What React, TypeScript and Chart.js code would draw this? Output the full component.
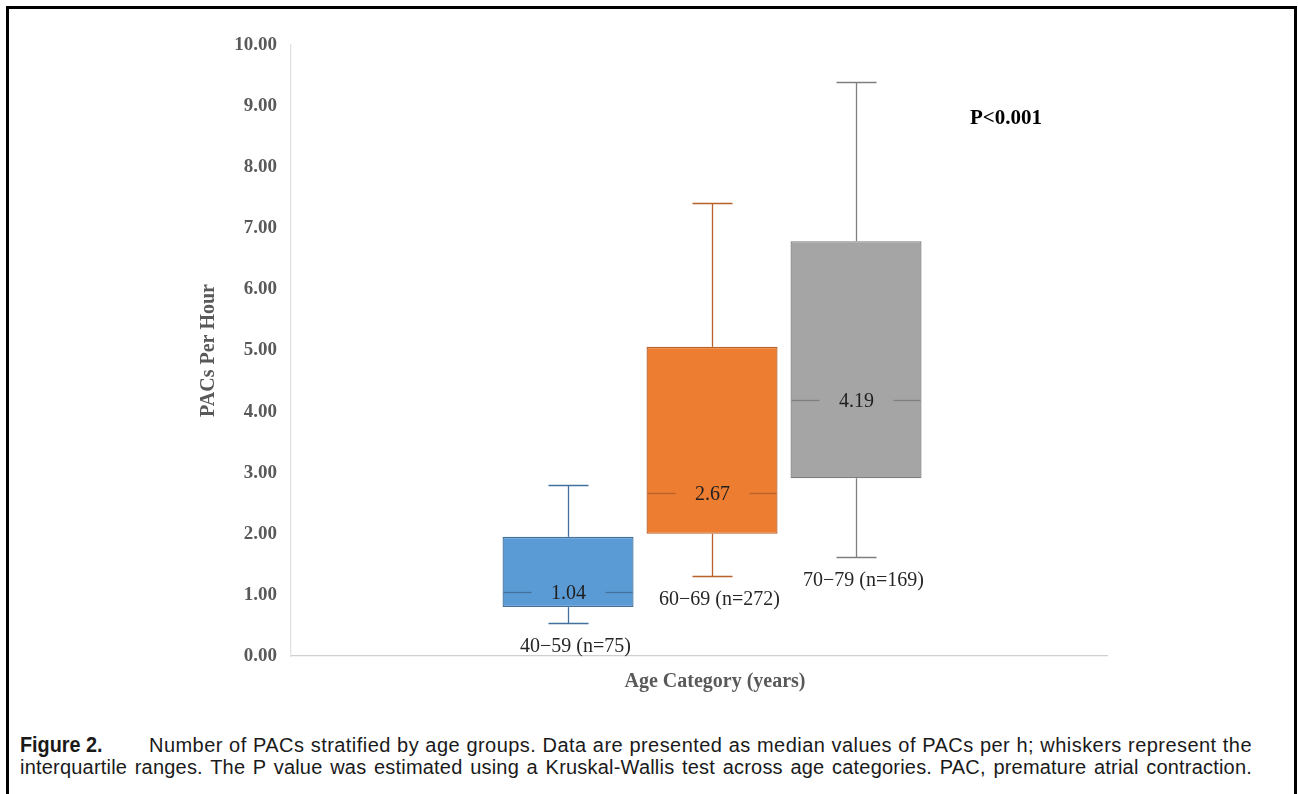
import React, { useEffect, useRef } from 'react';
import { Chart, registerables } from 'chart.js';

Chart.register(...registerables);

// ---- data ----
const categories = ['40−59 (n=75)', '60−69 (n=272)', '70−79 (n=169)'];
const medians = [1.04, 2.67, 4.19];
const q1Values = [0.8, 2.0, 2.91];
const q3Values = [1.95, 5.06, 6.79];
const whiskerLow = [0.54, 1.31, 1.62];
const whiskerHigh = [2.8, 7.41, 9.39];
const yTickValues = [0, 1, 2, 3, 4, 5, 6, 7, 8, 9, 10];
const pValueText = 'P<0.001';
const xTitle = 'Age Category (years)';
const yTitle = 'PACs Per Hour';

// ---- styles ----
const fillColors = ['#5B9BD5', '#ED7D31', '#A5A5A5'];
const edgeColors = ['#41719C', '#B8612A', '#7F7F7F'];
const SERIF = '"Liberation Serif", "Times New Roman", serif';

const boxExtras = {
  id: 'boxExtras',
  afterDatasetsDraw(chart: any) {
    const { ctx, scales, chartArea } = chart;
    const y = scales.y;
    const meta = chart.getDatasetMeta(0);
    ctx.save();
    const line = (x1: number, y1: number, x2: number, y2: number) => {
      ctx.beginPath();
      ctx.moveTo(x1, y1);
      ctx.lineTo(x2, y2);
      ctx.stroke();
    };
    categories.forEach((label, i) => {
      const bar = meta.data[i];
      const cx = Math.round(bar.x) + 0.5;
      const half = bar.width / 2;
      const left = bar.x - half;
      const right = bar.x + half;
      const yHi = Math.round(y.getPixelForValue(whiskerHigh[i])) + 0.5;
      const yQ3 = y.getPixelForValue(q3Values[i]);
      const yQ1 = y.getPixelForValue(q1Values[i]);
      const yLo = Math.round(y.getPixelForValue(whiskerLow[i])) + 0.5;
      const yMed = Math.round(y.getPixelForValue(medians[i])) + 0.5;
      ctx.strokeStyle = edgeColors[i];
      ctx.lineWidth = 1.3;
      line(cx, yHi, cx, yQ3);
      line(cx, yQ1, cx, yLo);
      line(cx - 20, yHi, cx + 20, yHi);
      line(cx - 20, yLo, cx + 20, yLo);
      const gap = 37;
      line(left + 1, yMed, cx - gap, yMed);
      line(cx + gap, yMed, right - 1, yMed);

      ctx.fillStyle = '#1f1f1f';
      ctx.font = `20px ${SERIF}`;
      ctx.textAlign = 'center';
      ctx.textBaseline = 'middle';
      ctx.fillText(medians[i].toFixed(2), cx, yMed + 1);

      ctx.fillStyle = '#262626';
      ctx.fillText(label, cx + 7, yLo + 23);
    });

    // P value annotation
    ctx.fillStyle = '#000000';
    ctx.font = `bold 21px ${SERIF}`;
    ctx.textAlign = 'left';
    ctx.textBaseline = 'middle';
    ctx.fillText(pValueText, chartArea.right - 137, chartArea.top + 74);

    // x axis title
    ctx.fillStyle = '#595959';
    ctx.font = `bold 20px ${SERIF}`;
    ctx.textAlign = 'center';
    ctx.fillText(xTitle, (chartArea.left + chartArea.right) / 2 + 16, chartArea.bottom + 26);
    ctx.restore();
  },
};

function BoxChart() {
  const ref = useRef<HTMLCanvasElement | null>(null);
  useEffect(() => {
    if (!ref.current) return;
    const chart = new Chart(ref.current, {
      type: 'bar',
      data: {
        datasets: [
          {
            data: categories.map((_, i) => ({ x: i, y: [q1Values[i], q3Values[i]] })) as any,
            backgroundColor: fillColors,
            borderColor: edgeColors,
            borderWidth: 1.3,
            borderSkipped: false,
            barPercentage: 0.91,
            categoryPercentage: 1,
          },
        ],
      },
      options: {
        animation: false,
        responsive: false,
        maintainAspectRatio: false,
        layout: { padding: { left: 185, right: 191, top: 45, bottom: 0 } },
        plugins: { legend: { display: false }, tooltip: { enabled: false } },
        scales: {
          x: {
            type: 'linear',
            min: -1.924,
            max: 3.743,
            offset: false,
            afterBuildTicks: (s: any) => {
              s.ticks = categories.map((_, i) => ({ value: i }));
            },
            ticks: { display: false },
            grid: { display: false, drawTicks: false, offset: false },
            border: { display: true, color: '#CFCFCF', width: 1.3 },
            afterFit: (s: any) => {
              s.height = 44;
            },
          },
          y: {
            min: 0,
            max: 10,
            afterBuildTicks: (s: any) => {
              s.ticks = yTickValues.map((v) => ({ value: v }));
            },
            ticks: {
              padding: 14,
              color: '#595959',
              font: { family: SERIF, size: 19, weight: 'bold' },
              callback: (v: any) => Number(v).toFixed(2),
            },
            grid: { display: false, drawTicks: false },
            border: { display: true, color: '#E2E2E2', width: 1.3 },
            title: {
              display: true,
              text: yTitle,
              color: '#595959',
              font: { family: SERIF, size: 20, weight: 'bold' },
              padding: { top: 12, bottom: 0 },
            },
            afterFit: (s: any) => {
              s.width = 106;
            },
          },
        },
      },
      plugins: [boxExtras],
    });
    return () => chart.destroy();
  }, []);
  return (
    <canvas
      ref={ref}
      width={1298}
      height={700}
      style={{ position: 'absolute', left: 0, top: 0, width: 1298, height: 700 }}
    />
  );
}

export default function App() {
  const captionLine: React.CSSProperties = {
    textAlign: 'justify',
    textAlignLast: 'justify' as any,
    whiteSpace: 'normal',
  };
  return (
    <div>
      <div
        style={{
          position: 'absolute',
          left: 6,
          top: 6,
          width: 1291,
          height: 788,
          boxSizing: 'border-box',
          border: '3px solid #000',
          borderBottom: 'none',
        }}
      />
      <BoxChart />
      <div
        style={{
          position: 'absolute',
          left: 20,
          top: 734,
          width: 1232,
          fontFamily: '"Liberation Sans", Arial, sans-serif',
          fontSize: 20,
          lineHeight: '22px',
          color: '#1a1a1a',
        }}
      >
        <div style={{ ...captionLine, letterSpacing: '0.45px' }}>
          <span style={{ display: 'inline-block', width: 129, whiteSpace: 'nowrap' }}>
            <span
              style={{
                display: 'inline-block',
                fontWeight: 'bold',
                fontSize: 22,
                letterSpacing: 0,
                transform: 'scaleX(0.9)',
                transformOrigin: 'left center',
              }}
            >
              Figure 2.
            </span>
          </span>
          Number of PACs stratified by age groups. Data are presented as median values of PACs per h; whiskers represent the
        </div>
        <div style={{ ...captionLine, letterSpacing: '0.2px' }}>
          interquartile ranges. The P value was estimated using a Kruskal-Wallis test across age categories. PAC, premature atrial contraction.
        </div>
      </div>
    </div>
  );
}
